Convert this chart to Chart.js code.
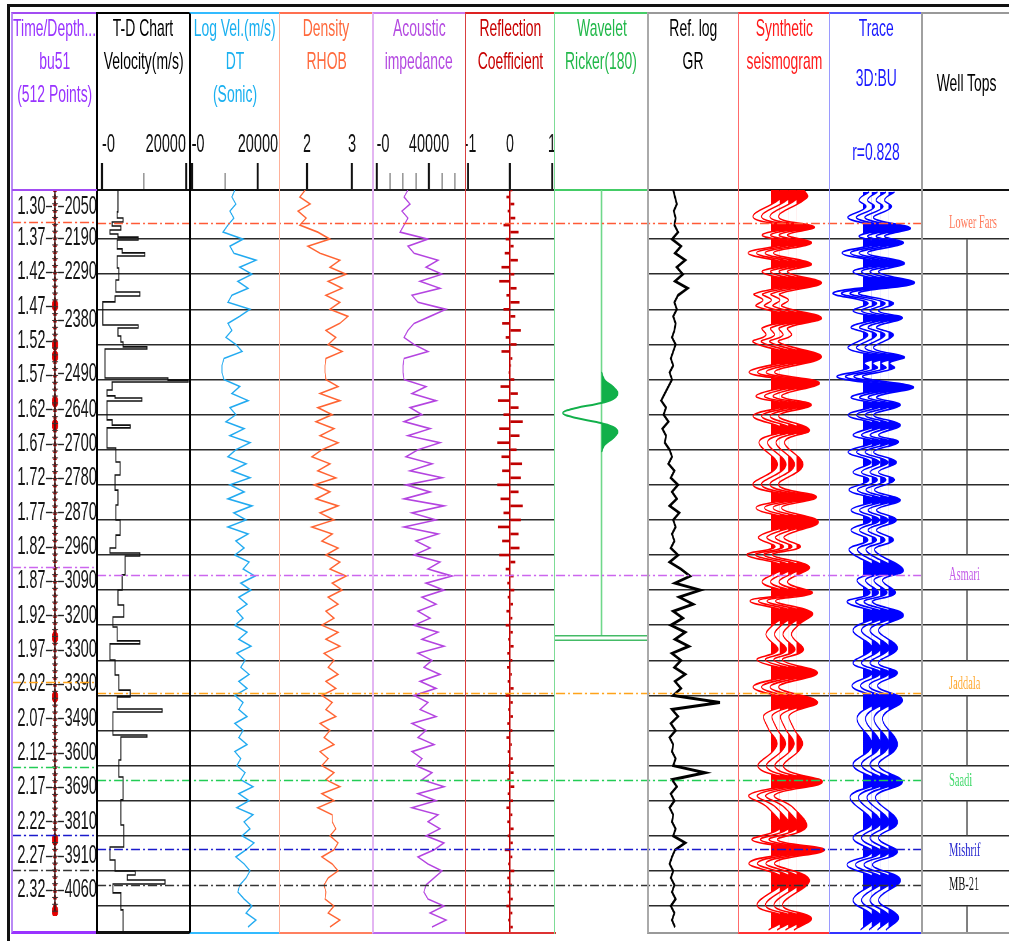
<!DOCTYPE html>
<html>
<head>
<meta charset="utf-8">
<title>Synthetic seismogram bu51</title>
<script src="https://cdn.jsdelivr.net/npm/chart.js@4.4.1/dist/chart.umd.min.js"></script>
<style>
  html, body { margin: 0; padding: 0; background: #fff; }
  body { position: relative; width: 1009px; height: 941px; overflow: hidden; font-family: 'Liberation Sans', Arial, sans-serif; }
  canvas { position: absolute; transform-origin: 0 0; z-index: 1; }
  .frame { position: absolute; box-sizing: border-box; z-index: 2; pointer-events: none; }
  .ttl { position: absolute; width: 300px; height: 30px; line-height: 30px; text-align: center; font-size: 24px; white-space: nowrap; z-index: 3; }
  .ttl span { display: inline-block; transform: scaleX(0.58); }
  .rule { position: absolute; z-index: 2; }
</style>
</head>
<body>
<script>
// ---------- data (time in s, two-way) ----------
const tMin = 1.30, tMax = 2.357;
const gridTimes = [1.37, 1.42, 1.47, 1.52, 1.57, 1.62, 1.67, 1.72, 1.77, 1.82, 1.87, 1.92, 1.97, 2.02, 2.07, 2.12, 2.17, 2.22, 2.27, 2.32];

const timeLabels = ['1.30', '1.37', '1.42', '1.47', '1.52', '1.57', '1.62', '1.67', '1.72', '1.77', '1.82', '1.87', '1.92', '1.97', '2.02', '2.07', '2.12', '2.17', '2.22', '2.27', '2.32'];
const timeLabelTimes = [1.3242, 1.37, 1.42, 1.47, 1.52, 1.57, 1.62, 1.67, 1.72, 1.77, 1.82, 1.87, 1.92, 1.97, 2.02, 2.07, 2.12, 2.17, 2.22, 2.27, 2.32];
const depthLabels = ['2050', '2190', '2290', '2380', '2490', '2640', '2700', '2780', '2870', '2960', '3090', '3200', '3300', '3390', '3490', '3600', '3690', '3810', '3910', '4060'];
const depthTimes = [1.3242, 1.37, 1.42, 1.4895, 1.5678, 1.62, 1.67, 1.72, 1.77, 1.82, 1.87, 1.92, 1.97, 2.02, 2.07, 2.12, 2.17, 2.22, 2.27, 2.32];
const bigMarkTimes = [1.468, 1.525, 1.542, 1.608, 1.642, 1.951, 2.038, 2.246, 2.35];

const topNames = ['Lower Fars', 'Asmari', 'Jaddala', 'Saadi', 'Mishrif', 'MB-21'];
const topTimes = [1.347, 1.8484, 2.0165, 2.1405, 2.2387, 2.290];

// T-D chart interval velocity (stepped)
const tdTime = [1.300, 1.3313, 1.3399, 1.3456, 1.3513, 1.3570, 1.3627, 1.3670, 1.3712, 1.3840, 1.3897, 1.3940, 1.4111, 1.4282, 1.4453, 1.4510, 1.4595, 1.4923, 1.4966, 1.5080,
  1.5165, 1.5236, 1.5265, 1.5678, 1.5707, 1.5735, 1.5849, 1.5934, 1.5963, 1.6006, 1.6276, 1.6348, 1.6390, 1.6675, 1.6875, 1.7060, 1.7274, 1.7487, 1.7701, 1.7915,
  1.8100, 1.8171, 1.8214, 1.8484, 1.8698, 1.8912, 1.9083, 1.9225, 1.9424, 1.9467, 1.9695, 1.9909, 2.0123, 2.0222, 2.0393, 2.0436, 2.0764, 2.0792, 2.1120, 2.1362,
  2.1689, 2.2046, 2.2359, 2.2544, 2.2701, 2.2758, 2.2829, 2.2886, 2.3014, 2.3256, 2.3570];
const tdVel = [3800, 3600, 5000, 2400, 4500, 1900, 3800, 8600, 3600, 4800, 10200, 3600, 4000, 3300, 9000, 3100, 200, 8600, 3800, 4500,
  5000, 10700, 700, 15700, 20500, 2400, 1200, 3100, 9500, 1200, 2400, 6700, 1200, 3300, 4300, 3100, 3800, 3300, 4300, 3300,
  1900, 9000, 5500, 4800, 3800, 5200, 2600, 3600, 9000, 1900, 3100, 4000, 6700, 3600, 14300, 2600, 10700, 4500, 4000, 5000,
  4500, 5200, 1900, 3100, 7900, 6000, 15000, 2600, 4500, 5000, 5000];

// log samples
const logTime = [1.30, 1.31, 1.32, 1.33, 1.34, 1.35, 1.36, 1.37, 1.38, 1.39,
  1.40, 1.41, 1.42, 1.43, 1.44, 1.45, 1.46, 1.47, 1.48, 1.49,
  1.50, 1.51, 1.52, 1.53, 1.54, 1.55, 1.56, 1.57, 1.58, 1.59,
  1.60, 1.61, 1.62, 1.63, 1.64, 1.65, 1.66, 1.67, 1.68, 1.69,
  1.70, 1.71, 1.72, 1.73, 1.74, 1.75, 1.76, 1.77, 1.78, 1.79,
  1.80, 1.81, 1.82, 1.83, 1.84, 1.85, 1.86, 1.87, 1.88, 1.89,
  1.90, 1.91, 1.92, 1.93, 1.94, 1.95, 1.96, 1.97, 1.98, 1.99,
  2.00, 2.01, 2.02, 2.03, 2.04, 2.05, 2.06, 2.07, 2.08, 2.09,
  2.10, 2.11, 2.12, 2.13, 2.14, 2.15, 2.16, 2.17, 2.18, 2.19,
  2.20, 2.21, 2.22, 2.23, 2.24, 2.25, 2.26, 2.27, 2.28, 2.29,
  2.30, 2.31, 2.32, 2.33, 2.34, 2.35];
const dtVel = [13000, 12100, 13300, 11500, 12700, 10900, 9400, 15500, 11500, 12700,
  19400, 14500, 18200, 13900, 17000, 12100, 10900, 17600, 14500, 10900,
  12100, 10300, 13300, 15200, 9700, 9100, 9100, 9700, 14500, 12100,
  17000, 11500, 13300, 10300, 15800, 11500, 17600, 13300, 10900, 16400,
  12100, 17600, 11500, 15800, 10900, 18200, 12700, 16400, 10900, 17000,
  13300, 15800, 13000, 17300, 15500, 19100, 14800, 17900, 14200, 16700,
  13600, 15500, 13000, 16700, 14200, 17900, 13600, 16100, 14800, 17300,
  14200, 16700, 13000, 15500, 14200, 16700, 13000, 15500, 14200, 16700,
  13000, 14800, 13600, 16100, 14800, 18500, 14200, 17300, 13600, 18500,
  15800, 17600, 15200, 18800, 16400, 13300, 15800, 17600, 16400, 14500,
  13900, 15800, 18200, 16400, 19400, 17000];
const rhob = [1.96, 1.84, 2.07, 1.80, 1.98, 1.84, 2.24, 2.51, 2.02, 2.29,
  2.73, 2.51, 2.87, 2.47, 2.78, 2.42, 2.73, 2.51, 2.91, 2.73,
  2.42, 2.64, 2.47, 2.78, 2.42, 2.40, 2.40, 2.42, 2.69, 2.29,
  2.73, 2.24, 2.56, 2.20, 2.60, 2.29, 2.69, 2.33, 2.11, 2.51,
  2.24, 2.64, 2.16, 2.51, 2.20, 2.69, 2.29, 2.60, 2.11, 2.56,
  2.33, 2.69, 2.42, 2.73, 2.51, 2.87, 2.56, 2.78, 2.47, 2.69,
  2.42, 2.60, 2.33, 2.69, 2.42, 2.73, 2.38, 2.60, 2.47, 2.69,
  2.42, 2.64, 2.33, 2.56, 2.42, 2.64, 2.29, 2.51, 2.38, 2.60,
  2.29, 2.47, 2.33, 2.60, 2.42, 2.73, 2.33, 2.60, 2.24, 2.56,
  2.56, 2.64, 2.51, 2.69, 2.60, 2.33, 2.56, 2.69, 2.47, 2.38,
  2.42, 2.40, 2.60, 2.47, 2.73, 2.51];
const acImp = [23800, 20800, 25400, 19200, 23800, 20800, 17700, 39200, 23800, 28500,
  46900, 37700, 50000, 33100, 48400, 26900, 31500, 53100, 40800, 28500,
  23800, 20800, 28500, 39200, 20800, 20000, 20000, 20800, 37700, 26900,
  45400, 25400, 34600, 20800, 40800, 23800, 48400, 31500, 22300, 42300,
  25400, 50000, 22300, 40800, 20800, 51500, 26900, 45400, 20800, 46900,
  30000, 40800, 28500, 48400, 39200, 57700, 37700, 51500, 34600, 45400,
  31500, 40800, 28500, 46900, 34600, 51500, 31500, 42300, 36100, 48400,
  33100, 45400, 28500, 39200, 33100, 45400, 26900, 37700, 31500, 43800,
  26900, 34600, 30000, 42300, 34600, 51500, 31500, 45400, 26900, 46900,
  39200, 48400, 37700, 51500, 43800, 31500, 39200, 50000, 43800, 37700,
  36100, 39200, 51500, 40800, 53100, 42300];
const reflCoef = [0.05, -0.08, 0.10, -0.05, 0.12, -0.15, 0.20, -0.10, 0.08, -0.12,
  0.18, -0.20, 0.10, -0.25, 0.15, -0.08, 0.22, -0.15, 0.12, -0.18,
  0.25, -0.10, 0.15, -0.20, 0.05, 0.02, -0.03, 0.10, -0.22, 0.18,
  -0.28, 0.20, -0.15, 0.30, -0.25, 0.22, -0.30, 0.15, -0.20, 0.28,
  -0.18, 0.25, -0.30, 0.20, -0.22, 0.30, -0.15, 0.25, -0.28, 0.20,
  -0.18, 0.22, -0.25, 0.12, -0.10, 0.08, -0.06, 0.10, -0.05, 0.07,
  -0.08, 0.05, -0.10, 0.06, -0.04, 0.08, -0.06, 0.05, -0.07, 0.04,
  -0.05, 0.08, -0.10, 0.06, -0.04, 0.07, -0.06, 0.05, -0.08, 0.04,
  -0.05, 0.06, -0.04, 0.08, -0.06, 0.10, -0.05, 0.07, -0.08, 0.05,
  -0.06, 0.08, -0.05, 0.06, -0.12, 0.05, -0.04, 0.10, -0.06, 0.04,
  -0.05, 0.06, -0.08, 0.05, -0.04, 0.06];
const grLog = [42, 45, 48, 43, 46, 44, 50, 40, 55, 45,
  62, 48, 58, 45, 66, 50, 44, 48, 42, 46,
  44, 40, 46, 42, 38, 42, 36, 40, 34, 28,
  22, 30, 26, 34, 24, 30, 28, 36, 40, 34,
  44, 38, 50, 40, 48, 36, 52, 42, 46, 40,
  44, 38, 50, 36, 55, 70, 45, 87, 52, 75,
  42, 58, 38, 62, 45, 68, 40, 55, 44, 62,
  45, 55, 42, 120, 40, 50, 38, 46, 36, 42,
  40, 46, 42, 95, 40, 48, 38, 44, 36, 42,
  40, 46, 42, 62, 45, 40, 36, 42, 38, 44,
  40, 46, 38, 44, 40, 45];

// Ricker wavelet (amplitude, normalised)
const waveTime = [1.5593, 1.5707, 1.5806, 1.5892, 1.5977, 1.6048, 1.6105, 1.6177, 1.6248, 1.6305, 1.6376, 1.6447, 1.6533, 1.6632, 1.6732];
const waveAmp = [0, 0.08, 0.30, 0.42, 0.30, -0.13, -0.65, -1, -0.65, -0.13, 0.30, 0.42, 0.30, 0.08, 0];
const waveCut = [1.935, 1.9415];

// synthetic seismogram and 3D trace, extrema of the wiggle
const synthTime = [1.300, 1.310, 1.3385, 1.3527, 1.3641, 1.3755, 1.3897, 1.4054, 1.4168, 1.4325, 1.4481, 1.4567, 1.4652, 1.4823, 1.4966, 1.5066, 1.5165, 1.5379, 1.5593, 1.5749,
  1.5934, 1.6063, 1.6219, 1.6419, 1.6590, 1.6917, 1.7202, 1.7373, 1.7530, 1.7729, 1.7943, 1.8085, 1.8199, 1.8370, 1.8584, 1.8741, 1.8855, 1.9026, 1.9197, 1.9339,
  1.9553, 1.9695, 1.9880, 2.0080, 2.0293, 2.0479, 2.0664, 2.0906, 2.1219, 2.1433, 2.1618, 2.1803, 2.2074, 2.2259, 2.2402, 2.2587, 2.2829, 2.3185, 2.3370, 2.3541];
const synthAmp = [0.30, 0.44, -0.72, 0.72, -0.36, 0.60, -0.92, 0.60, -0.36, 1.00, -0.68, -0.32, -0.60, 1.00, -0.36, -0.20, -0.72, 1.00, -0.88, 0.92,
  -0.60, 0.60, -0.72, 0.52, -0.48, 0.26, -0.72, 0.80, -0.60, 0.88, -0.50, 0.16, -0.96, 0.52, -0.36, 0.64, -0.84, 0.64, 0.08, -0.20,
  0.28, -0.56, 0.84, -0.72, 0.84, -0.28, -0.12, 0.24, -0.52, 1.04, -0.88, -0.12, 0.40, -0.76, 1.12, -0.88, 0.52, -0.56, 0.60, -0.10];
const traceTime = [1.3028, 1.3142, 1.3242, 1.3399, 1.3541, 1.3655, 1.3755, 1.3897, 1.4040, 1.4168, 1.4325, 1.4467, 1.4610, 1.4724, 1.4823, 1.4952, 1.5066, 1.5251, 1.5379, 1.5464,
  1.5536, 1.5664, 1.5806, 1.5949, 1.6063, 1.6205, 1.6348, 1.6490, 1.6590, 1.6732, 1.6875, 1.7017, 1.7131, 1.7274, 1.7416, 1.7558, 1.7701, 1.7843, 1.7986, 1.8128,
  1.8413, 1.8556, 1.8741, 1.8869, 1.9054, 1.9268, 1.9524, 1.9738, 1.9880, 2.0066, 2.0265, 2.0521, 2.0906, 2.1191, 2.1433, 2.1647, 2.2003, 2.2231, 2.2431, 2.2615,
  2.2829, 2.3114, 2.3356, 2.3541];
const traceAmp = [0.24, -0.16, 0.12, -0.60, 0.88, -0.16, 0.60, -0.84, 0.64, -0.40, 1.04, -1.20, 0.20, -0.40, 0.56, -0.48, 0.20, -0.60, 0.64, 0.04,
  0.24, -1.04, 1.00, -0.48, 0.48, -0.60, 0.48, -0.40, 0.40, -0.60, 0.32, -0.40, 0.24, -0.56, 0.48, -0.48, 0.32, -0.48, 0.20, -0.56,
  0.60, -0.24, 0.28, -0.64, 0.60, -0.40, 0.36, -0.40, 0.36, -0.44, 0.56, -0.24, 0.36, -0.40, 0.56, -0.52, 0.36, -0.40, 0.36, -0.64,
  0.48, -0.40, 0.40, -0.10];

// ---------- layout / style ----------
const S = 0.58;                       // the original picture is squeezed horizontally
const TOP = 120, PLOT_TOP = 190, PLOT_BOTTOM = 932;
const FONT = "'Liberation Sans', Arial, sans-serif";
const traceOffsets = [33, 41.5, 50, 58.5];  // px from column edge to each wiggle baseline
const ampPx = 25;                           // px per unit amplitude
const topLineColors = ['#ff5a36', '#cc66ee', '#ffa31a', '#22cc55', '#1a1acc', '#333333'];
const topLabelColors = ['#ff7b5c', '#c45ee8', '#ffa82e', '#3fd869', '#2a2ad0', '#111111'];
const topLabelShift = [0, 0, -9, 1, 2, 0];  // px nudges of the names in the tops column

const cols = {
  tdp:  {l: 12,  r: 97,   left: '#b98af5', lw: 2,   top: '#a24cf2', bottom: '#9933ff', bw: 3},
  td:   {l: 97,  r: 190,  left: '#000',    lw: 2,   top: '#000',    bottom: '#111',    bw: 3},
  dt:   {l: 190, r: 280,  left: '#000',    lw: 2,   top: '#33bbff', bottom: '#33bbff', bw: 2},
  rhob: {l: 280, r: 373,  left: '#ffb199', lw: 1.5, top: '#ff7050', bottom: '#ff8060', bw: 2},
  ai:   {l: 373, r: 465,  left: '#e3b5f2', lw: 2,   top: '#cc77ee', bottom: '#bb66ee', bw: 2},
  rc:   {l: 465, r: 555,  left: '#d94040', lw: 1,   top: '#dd2222', bottom: '#dd3333', bw: 2},
  wav:  {l: 555, r: 648,  left: '#7ddc96', lw: 1.5, top: '#44cc66', bottom: null,      bw: 0},
  gr:   {l: 648, r: 738,  left: '#aaaaaa', lw: 2,   top: '#999999', bottom: '#999999', bw: 2},
  syn:  {l: 738, r: 830,  left: '#ff6b6b', lw: 1,   top: '#ff3333', bottom: '#ff3333', bw: 2},
  tr:   {l: 830, r: 922,  left: '#9a9aff', lw: 1.5, top: '#5555ff', bottom: '#3333ff', bw: 2},
  tops: {l: 922, r: 1012, left: '#a0a0a0', lw: 2,   top: '#999999', bottom: '#999999', bw: 2}
};

const titles = [
  ['tdp', 28, 'Time/Depth...', '#9933ff'], ['tdp', 61, 'bu51', '#9933ff'], ['tdp', 94, '(512 Points)', '#9933ff'],
  ['td', 28, 'T-D Chart', '#000'], ['td', 61, 'Velocity(m/s)', '#000'],
  ['dt', 28, 'Log Vel.(m/s)', '#1ab0f0'], ['dt', 61, 'DT', '#1ab0f0'], ['dt', 94, '(Sonic)', '#1ab0f0'],
  ['rhob', 28, 'Density', '#ff6a3d'], ['rhob', 61, 'RHOB', '#ff6a3d'],
  ['ai', 28, 'Acoustic', '#b44be1'], ['ai', 61, 'impedance', '#b44be1'],
  ['rc', 28, 'Reflection', '#c80000'], ['rc', 61, 'Coefficient', '#c80000'],
  ['wav', 28, 'Wavelet', '#22b84a'], ['wav', 61, 'Ricker(180)', '#22b84a'],
  ['gr', 28, 'Ref. log', '#000'], ['gr', 61, 'GR', '#000'],
  ['syn', 28, 'Synthetic', '#ff1a1a'], ['syn', 61, 'seismogram', '#ff1a1a'],
  ['tr', 28, 'Trace', '#1a1aff'], ['tr', 78, '3D:BU', '#1a1aff'], ['tr', 152, 'r=0.828', '#1a1aff'],
  ['tops', 83, 'Well Tops', '#000']
];

// ---------- page furniture ----------
function addDiv(cls, css) {
  const d = document.createElement('div');
  if (cls) d.className = cls;
  d.style.cssText = css;
  document.body.appendChild(d);
  return d;
}
addDiv('rule', 'left:7px;top:4px;width:1010px;height:940px;border-left:3px solid #111;border-top:3px solid #111;box-sizing:border-box;');
Object.keys(cols).forEach(key => {
  const c = cols[key];
  addDiv('frame', `left:${c.l - c.lw / 2}px;top:12px;width:${c.r - c.l + 1}px;height:${PLOT_BOTTOM + 2 - 12}px;` +
    `border-left:${c.lw}px solid ${c.left};border-top:2px solid ${c.top};` +
    (c.bottom ? `border-bottom:${c.bw}px solid ${c.bottom};` : ''));
});
addDiv('rule', `left:12px;top:189px;width:85px;height:2px;background:#a24cf2;`);
titles.forEach(([key, yc, text, color]) => {
  const c = cols[key];
  const d = addDiv('ttl', `left:${(c.l + c.r) / 2 - 150}px;top:${yc - 15}px;color:${color};`);
  const s = document.createElement('span');
  s.textContent = text;
  d.appendChild(s);
});

// ---------- plugins ----------
// fill the positive side of a wiggle (variable area display)
const wiggleFill = {
  id: 'wiggleFill',
  beforeDatasetDraw(chart, args) {
    const ds = chart.data.datasets[args.index];
    if (!ds.posFill) return;
    const meta = args.meta, line = meta.dataset, pts = meta.data;
    if (!line || !pts.length) return;
    const a = chart.chartArea, ctx = chart.ctx;
    const x0 = meta.xScale.getPixelForValue(0);
    line.updateControlPoints(a, meta.iScale.axis);
    ctx.save();
    ctx.beginPath();
    ctx.rect(x0, a.top, a.right - x0, a.bottom - a.top);
    ctx.clip();
    ctx.beginPath();
    line.path(ctx);
    ctx.lineTo(x0, pts[pts.length - 1].y);
    ctx.lineTo(x0, pts[0].y);
    ctx.closePath();
    ctx.fillStyle = ds.posFill;
    ctx.fill();
    ctx.restore();
  }
};

// dash-dot well top markers across the tracks
const topsLines = {
  id: 'topsLines',
  afterDatasetsDraw(chart, args, o) {
    if (!o.on) return;
    const ctx = chart.ctx, ys = chart.scales.y, k = o.k;
    ctx.save();
    ctx.lineWidth = 1.3;
    ctx.setLineDash([9 / k, 3 / k, 2 / k, 3 / k]);
    ctx.lineDashOffset = o.offset;
    topTimes.forEach((t, i) => {
      const y = Math.round(ys.getPixelForValue(t)) + 0.5;
      ctx.strokeStyle = topLineColors[i];
      ctx.beginPath();
      ctx.moveTo(0, y);
      ctx.lineTo(chart.width, y);
      ctx.stroke();
    });
    ctx.restore();
  }
};

// wavelet zero line and window end
const waveFrame = {
  id: 'waveFrame',
  beforeDatasetsDraw(chart, args, o) {
    if (!o.on) return;
    const ctx = chart.ctx, a = chart.chartArea, ys = chart.scales.y;
    const x0 = chart.scales.x.getPixelForValue(0);
    ctx.save();
    ctx.strokeStyle = '#6fd88a';
    ctx.lineWidth = 1.6 / o.k;
    ctx.beginPath();
    ctx.moveTo(x0, a.top);
    ctx.lineTo(x0, ys.getPixelForValue(waveCut[0]));
    ctx.stroke();
    ctx.strokeStyle = '#44bb66';
    ctx.lineWidth = 1.4;
    waveCut.forEach(t => {
      const y = ys.getPixelForValue(t);
      ctx.beginPath();
      ctx.moveTo(a.left, y);
      ctx.lineTo(a.right, y);
      ctx.stroke();
    });
    ctx.restore();
  }
};

// well tops column: names and cell divider
const topsColumn = {
  id: 'topsColumn',
  afterDatasetsDraw(chart, args, o) {
    if (!o.on) return;
    const ctx = chart.ctx, ys = chart.scales.y;
    const edges = [tMin].concat(gridTimes, [tMax]);
    ctx.save();
    ctx.strokeStyle = '#444';
    ctx.lineWidth = 1.3 / o.k;
    for (let i = 0; i < edges.length - 1; i++) {
      const t0 = edges[i], t1 = edges[i + 1];
      if (topTimes.some(t => t > t0 && t < t1)) continue;
      ctx.beginPath();
      ctx.moveTo(o.divider, ys.getPixelForValue(t0));
      ctx.lineTo(o.divider, ys.getPixelForValue(t1));
      ctx.stroke();
    }
    ctx.font = "18px 'Liberation Serif', 'Times New Roman', serif";
    ctx.textAlign = 'left';
    ctx.textBaseline = 'middle';
    topNames.forEach((n, i) => {
      ctx.fillStyle = topLabelColors[i];
      ctx.fillText(n, o.labelX, ys.getPixelForValue(topTimes[i]) + topLabelShift[i]);
    });
    ctx.restore();
  }
};

Chart.register(wiggleFill, topsLines, waveFrame, topsColumn);
Chart.defaults.font.family = FONT;
Chart.defaults.elements.point.radius = 0;

// ---------- helpers ----------
function canvasWidth(c) { return Math.round((c.r - c.l) / S); }
function kOf(c) { return (c.r - c.l) / canvasWidth(c); }

function makeCanvas(c) {
  const w = canvasWidth(c), h = PLOT_BOTTOM - TOP;
  const cv = document.createElement('canvas');
  cv.width = w;
  cv.height = h;
  cv.style.cssText = `left:${c.l}px;top:${TOP}px;width:${w}px;height:${h}px;transform:scaleX(${(c.r - c.l) / w});`;
  document.body.appendChild(cv);
  return cv;
}

function timeAxis(grid) {
  return {
    type: 'linear', position: 'left', reverse: true, min: tMin, max: tMax, offset: false,
    afterBuildTicks: s => { s.ticks = gridTimes.map(v => ({value: v})); },
    afterFit: s => { s.width = 0; },
    ticks: {display: false},
    grid: {display: grid, offset: false, drawTicks: false, color: '#2b2b2b', lineWidth: 1.6},
    border: {display: false}
  };
}

function headAxis(min, max, ticks, labels, minor, align, lineColor, k) {
  const isMinor = c => c.tick && minor.includes(c.tick.value);
  return {
    type: 'linear', position: 'top', min: min, max: max,
    afterBuildTicks: s => { s.ticks = ticks.map(v => ({value: v})); },
    afterFit: s => { s.height = PLOT_TOP - TOP; s.paddingLeft = 0; s.paddingRight = 0; },
    ticks: {
      display: ticks.length > 0, autoSkip: false, maxRotation: 0, minRotation: 0, align: align, padding: 3,
      color: '#111', font: {family: FONT, size: 25}, callback: (v, i) => labels[i]
    },
    grid: {
      display: ticks.length > 0, drawOnChartArea: false, tickLength: 27,
      tickColor: c => isMinor(c) ? '#777' : '#111',
      tickWidth: c => isMinor(c) ? 1.2 / k : 2 / k,
      tickBorderDash: c => isMinor(c) ? [0, 10, 17, 100] : []
    },
    border: {display: true, color: lineColor, width: 2}
  };
}

function baseOptions(scales, plugins) {
  return {
    responsive: false, animation: false, devicePixelRatio: 1, events: [],
    layout: {padding: 0},
    scales: scales,
    plugins: Object.assign({legend: {display: false}, tooltip: {enabled: false}}, plugins)
  };
}

function curveChart(key, axis, times, values, color, extra, grid) {
  const c = cols[key], k = kOf(c);
  const x = headAxis(axis.min, axis.max, axis.ticks || [], axis.labels || [], axis.minor || [], axis.align || 'center', axis.line || '#222', k);
  return new Chart(makeCanvas(c), {
    type: 'scatter',
    data: {datasets: [Object.assign({
      data: times.map((t, i) => ({x: values[i], y: t})),
      showLine: true, borderColor: color, borderWidth: 1.6, pointRadius: 0
    }, extra || {})]},
    options: baseOptions({x: x, y: timeAxis(grid !== false)},
      Object.assign({topsLines: {on: true, k: k, offset: (c.l - 12) / k}}, axis.plugins || {}))
  });
}

function wiggleChart(key, times, amps, color) {
  const c = cols[key], k = kOf(c), w = c.r - c.l;
  const scales = {};
  const datasets = traceOffsets.map((off, j) => {
    const id = j === 0 ? 'x' : 'w' + j;
    const min = -off / ampPx, max = (w - off) / ampPx;
    scales[id] = j === 0
      ? headAxis(min, max, [], [], [], 'center', '#111', k)
      : {type: 'linear', axis: 'x', position: 'top', display: false, min: min, max: max};
    return {
      data: times.map((t, i) => ({x: amps[i], y: t})), xAxisID: id, showLine: true,
      borderColor: color, borderWidth: 1.6, pointRadius: 0, tension: 0.4, posFill: color
    };
  });
  scales.y = timeAxis(true);
  return new Chart(makeCanvas(c), {
    type: 'scatter',
    data: {datasets: datasets},
    options: baseOptions(scales, {topsLines: {on: true, k: k, offset: (c.l - 12) / k}})
  });
}

// ---------- Time / Depth track ----------
(function () {
  const c = cols.tdp, k = kOf(c);
  const sideAxis = (pos, times, labels, width) => ({
    type: 'linear', position: pos, reverse: true, min: tMin, max: tMax,
    afterBuildTicks: s => { s.ticks = times.map(v => ({value: v})); },
    afterFit: s => { s.width = width / k; },
    ticks: {autoSkip: false, color: '#151515', padding: 1, font: {family: FONT, size: 25}, callback: (v, i) => labels[i]},
    grid: {drawOnChartArea: false, tickLength: 6 / k, tickColor: '#222', tickWidth: 1.4},
    border: {display: false}
  });
  new Chart(makeCanvas(c), {
    type: 'scatter',
    data: {datasets: [
      {data: logTime.map(t => ({x: 0, y: t})), showLine: true, borderColor: '#2a1414', borderWidth: 2.2,
        pointStyle: 'line', pointRadius: 7, pointBorderColor: '#333', pointBorderWidth: 1},
      {data: logTime.map(t => ({x: 0, y: t})), pointStyle: 'triangle', pointRadius: 3.2,
        pointBackgroundColor: '#ee0000', pointBorderColor: '#cc0000', pointBorderWidth: 1},
      {data: bigMarkTimes.map(t => ({x: 0, y: t})), pointStyle: 'circle', pointRadius: 5.5,
        pointBackgroundColor: '#ee0000', pointBorderColor: '#cc0000', pointBorderWidth: 1}
    ]},
    options: baseOptions({
      x: {type: 'linear', position: 'top', min: -1, max: 1,
        afterFit: s => { s.height = PLOT_TOP - TOP; s.paddingLeft = 0; s.paddingRight = 0; },
        ticks: {display: false}, grid: {display: false}, border: {display: false}},
      y: sideAxis('left', timeLabelTimes, timeLabels, 40),
      yd: sideAxis('right', depthTimes, depthLabels, 39)
    }, {topsLines: {on: true, k: k, offset: 0}})
  });
})();

// ---------- log tracks ----------
curveChart('td', {min: -1190, max: 20950, ticks: [0, 10000, 20000], labels: ['-0', '', '20000'], minor: [10000], align: 'inner', line: '#111'},
  tdTime, tdVel, '#111', {stepped: 'after', borderWidth: 1.7});
curveChart('dt', {min: -600, max: 26700, ticks: [0, 10000, 20000], labels: ['   -0', '', '20000'], minor: [10000], line: '#111'},
  logTime, dtVel, '#22aaf0');
curveChart('rhob', {min: 1.4, max: 3.467, ticks: [2, 3], labels: ['2', '3']},
  logTime, rhob, '#ff6433');
curveChart('ai', {min: -3077, max: 67692, ticks: [0, 10000, 20000, 30000, 40000, 50000, 60000],
  labels: ['   -0', '', '', '', '40000', '', ''], minor: [10000, 20000, 30000, 50000, 60000]},
  logTime, acImp, '#b444e0');
curveChart('wav', {min: -1.2, max: 1.2, line: '#44cc66', plugins: {waveFrame: {on: true, k: kOf(cols.wav)}}},
  waveTime, waveAmp, '#11b04a', {tension: 0.4, borderWidth: 2, posFill: '#11b04a'}, false);
curveChart('gr', {min: 0, max: 150, line: '#222'},
  logTime, grLog, '#000', {borderWidth: 3});

// reflection coefficients as spikes off a zero line
(function () {
  const c = cols.rc, k = kOf(c);
  const x = headAxis(-1.071, 1.071, [-1, 0, 1], [' -1', '0', '1'], [], 'center', '#222', k);
  x.grid.drawOnChartArea = true;
  x.grid.color = ctx => (ctx.tick && ctx.tick.value === 0) ? '#c00000' : 'rgba(0,0,0,0)';
  x.grid.lineWidth = 1.4 / k;
  const o = baseOptions({x: x, y: timeAxis(true)}, {topsLines: {on: true, k: k, offset: (c.l - 12) / k}});
  o.indexAxis = 'y';
  new Chart(makeCanvas(c), {
    type: 'bar',
    data: {datasets: [{
      data: logTime.map((t, i) => ({x: reflCoef[i], y: t})),
      backgroundColor: '#c00000', borderWidth: 0, barThickness: 2
    }]},
    options: o
  });
})();

// ---------- seismic ----------
wiggleChart('syn', synthTime, synthAmp, '#ff0000');
wiggleChart('tr', traceTime, traceAmp, '#0000ff');

// ---------- well tops column ----------
(function () {
  const c = cols.tops, k = kOf(c);
  new Chart(makeCanvas(c), {
    type: 'scatter',
    data: {datasets: []},
    options: baseOptions({
      x: headAxis(0, 1, [], [], [], 'center', '#111', k),
      y: timeAxis(true)
    }, {topsColumn: {on: true, k: k, divider: (967 - c.l) / k, labelX: (949 - c.l) / k}})
  });
})();
</script>
</body>
</html>
